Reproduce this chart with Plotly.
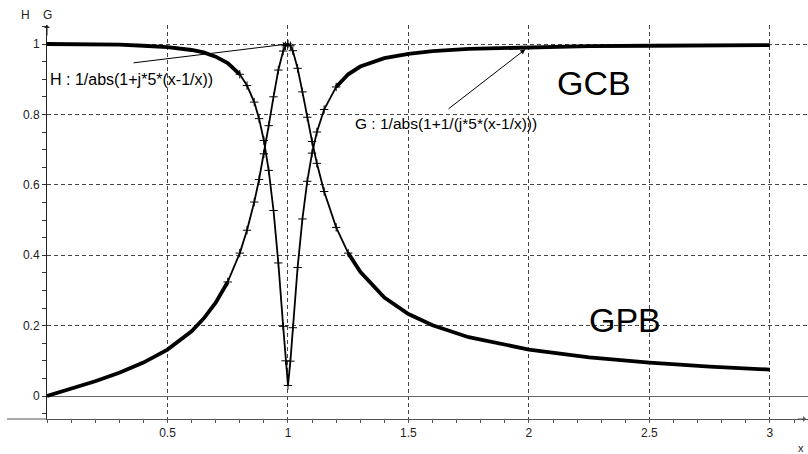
import numpy as np
import plotly.graph_objects as go

# ---- data ----
x_vals = [0.0, 0.1, 0.2, 0.3, 0.4, 0.5, 0.6, 0.65, 0.7, 0.75, 0.8, 0.83, 0.86, 0.88,
          0.9, 0.92, 0.94, 0.96, 0.98, 0.99, 1.0, 1.01, 1.02, 1.04, 1.06, 1.08, 1.1,
          1.12, 1.15, 1.2, 1.25, 1.3, 1.4, 1.5, 1.6, 1.75, 2.0, 2.25, 2.5, 2.75, 3.0]
H_vals = [0.0, 0.02, 0.042, 0.066, 0.095, 0.132, 0.184, 0.22, 0.265, 0.324, 0.406, 0.471,
          0.551, 0.615, 0.688, 0.768, 0.85, 0.926, 0.98, 0.995, 1.0, 0.995, 0.981, 0.931,
          0.864, 0.792, 0.723, 0.661, 0.581, 0.479, 0.406, 0.353, 0.28, 0.233, 0.201,
          0.167, 0.132, 0.11, 0.095, 0.0835, 0.075]
G_vals = [1.0, 1.0, 0.999, 0.998, 0.995, 0.991, 0.983, 0.976, 0.964, 0.946, 0.914, 0.882,
          0.835, 0.788, 0.726, 0.641, 0.527, 0.378, 0.198, 0.1, 0.03, 0.099, 0.194, 0.365,
          0.503, 0.61, 0.69, 0.75, 0.814, 0.878, 0.914, 0.936, 0.96, 0.972, 0.98, 0.986,
          0.991, 0.994, 0.995, 0.996, 0.997]

x_ticks = [0.5, 1, 1.5, 2, 2.5, 3]
x_ticktext = ["0.5", "1", "1.5", "2", "2.5", "3"]
y_ticks = [0, 0.2, 0.4, 0.6, 0.8, 1]
y_ticktext = ["0", "0.2", "0.4", "0.6", "0.8", "1"]

label_H = "H : 1/abs(1+j*5*(x-1/x))"
label_G = "G : 1/abs(1+1/(j*5*(x-1/x)))"

xa = np.array(x_vals)
Ha = np.array(H_vals)
Ga = np.array(G_vals)

fig = go.Figure()

def add_curve(yv, lo, hi):
    left = xa <= lo
    right = xa >= hi
    mid = (xa >= lo) & (xa <= hi)
    for m in (left, right):
        fig.add_trace(go.Scatter(x=xa[m], y=yv[m], mode="lines",
                                 line=dict(color="black", width=3.8), hoverinfo="skip"))
    fig.add_trace(go.Scatter(x=xa[mid], y=yv[mid], mode="lines+markers",
                             line=dict(color="black", width=1.8),
                             marker=dict(symbol="cross-thin", size=6, color="black",
                                         line=dict(color="black", width=1)),
                             hoverinfo="skip"))

add_curve(Ha, 0.75, 1.25)
add_curve(Ga, 0.8, 1.2)

grid_c = "#444444"
fig.update_xaxes(range=[0, 3.158], tickvals=x_ticks, ticktext=x_ticktext, automargin=False,
                 ticks="outside", ticklen=3, tickcolor="#555", tickwidth=1,
                 showgrid=True, gridcolor=grid_c, gridwidth=1, griddash="4px,3px",
                 minor=dict(dtick=0.1, tick0=0, ticks="outside", ticklen=3,
                            tickcolor="#555", showgrid=False),
                 showline=True, linecolor="#555", linewidth=1, zeroline=False,
                 tickfont=dict(size=12, color="#222"))
fig.update_yaxes(range=[-0.0653, 1.054], tickvals=y_ticks, ticktext=y_ticktext, automargin=False,
                 ticks="outside", ticklen=4, tickcolor="#333", tickwidth=1,
                 showgrid=True, gridcolor=grid_c, gridwidth=1, griddash="4px,3px",
                 minor=dict(dtick=0.05, tick0=0, ticks="outside", ticklen=4,
                            tickcolor="#333", showgrid=False),
                 showline=True, linecolor="#222", linewidth=1,
                 zeroline=True, zerolinecolor="#666", zerolinewidth=1,
                 tickfont=dict(size=12, color="#222"))

annotations = [
    # y axis arrow head
    dict(x=0, y=1, xref="x", yref="paper", ax=0, ay=12, text="", showarrow=True,
         arrowhead=1, arrowsize=1, arrowwidth=1, arrowcolor="#222"),
    # x axis arrow head
    dict(x=0.9975, y=0, xref="paper", yref="paper", ax=-10, ay=0, text="", showarrow=True,
         arrowhead=1, arrowsize=1, arrowwidth=1, arrowcolor="#555"),
    # pointer arrows
    dict(x=1.0, y=1.0, xref="x", yref="y", axref="x", ayref="y", ax=0.353, ay=0.946,
         text="", showarrow=True, arrowhead=2, arrowsize=1, arrowwidth=1, arrowcolor="black"),
    dict(x=1.985, y=0.985, xref="x", yref="y", axref="x", ayref="y", ax=1.66, ay=0.8125,
         text="", showarrow=True, arrowhead=2, arrowsize=1, arrowwidth=1, arrowcolor="black"),
    dict(x=0.004, y=0.898, xref="x", yref="y", text=label_H, showarrow=False,
         xanchor="left", yanchor="middle", font=dict(size=16, color="black")),
    dict(x=1.27, y=0.774, xref="x", yref="y", text=label_G, showarrow=False,
         xanchor="left", yanchor="middle", font=dict(size=15.5, color="black")),
    dict(x=2.27, y=0.889, xref="x", yref="y", text="GCB", showarrow=False,
         xanchor="center", yanchor="middle", font=dict(size=34, color="black")),
    dict(x=2.40, y=0.216, xref="x", yref="y", text="GPB", showarrow=False,
         xanchor="center", yanchor="middle", font=dict(size=34, color="black")),
    dict(x=(25 - 47) / 761, y=1.0254, xref="paper", yref="paper", text="H", showarrow=False,
         xanchor="center", yanchor="middle", font=dict(size=12, color="#222")),
    dict(x=0, y=1.0254, xref="paper", yref="paper", text="G", showarrow=False,
         xanchor="center", yanchor="middle", font=dict(size=12, color="#222")),
    dict(x=(801 - 47) / 761, y=(419 - 448) / 394, xref="paper", yref="paper", text="x",
         showarrow=False, xanchor="center", yanchor="middle", font=dict(size=11, color="#222")),
    # cropped title (only descenders visible)
    dict(x=(175 - 47) / 761, y=(419 + 4) / 394, xref="paper", yref="paper", text="<b>y</b>",
         showarrow=False, xanchor="center", yanchor="bottom", font=dict(size=26, color="black")),
    dict(x=(300 - 47) / 761, y=(419 + 4) / 394, xref="paper", yref="paper", text="<b>y</b>",
         showarrow=False, xanchor="center", yanchor="bottom", font=dict(size=26, color="black")),
]

shapes = [
    # bottom axis line continuing left of the y axis
    dict(type="line", xref="paper", yref="paper", x0=-40 / 761, x1=0, y0=0, y1=0,
         line=dict(color="#555", width=1)),
]

fig.update_layout(width=808, height=454, margin=dict(l=47, r=0, t=25, b=35),
                  plot_bgcolor="white", paper_bgcolor="white", showlegend=False,
                  font=dict(family="Liberation Sans, Arial, sans-serif", size=12, color="black"),
                  annotations=annotations, shapes=shapes)

fig.write_html("out.html", config={"displayModeBar": False},
               post_script="document.body.style.margin='0px';document.body.style.overflow='hidden';")
